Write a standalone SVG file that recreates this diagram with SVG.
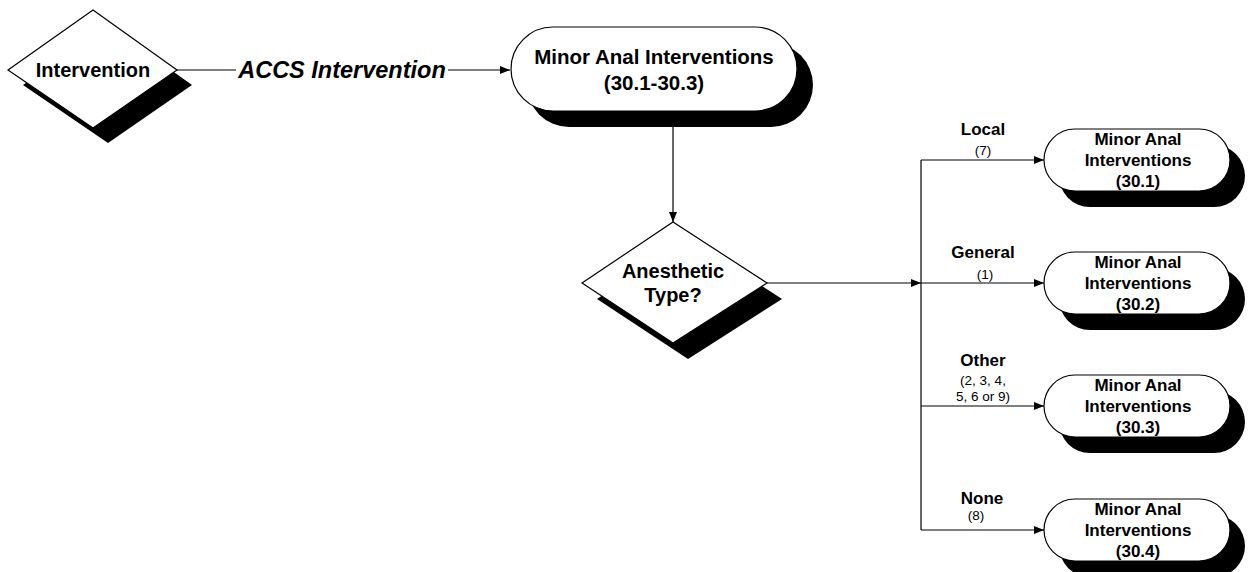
<svg xmlns="http://www.w3.org/2000/svg" width="1249" height="572" viewBox="0 0 1249 572">
<defs>
<style>
.bg{fill:#fff}
.shadow{fill:#000;stroke:none}
.shape{fill:#fff;stroke:#000;stroke-width:1.2}
.conn{fill:none;stroke:#000;stroke-width:1.2}
.t{font-family:"Liberation Sans",Arial,sans-serif;font-weight:bold;text-anchor:middle;fill:#000}
.big{font-size:20px}
.top{font-size:20.5px}
.mid{font-size:17px}
.small{font-family:"Liberation Sans",Arial,sans-serif;font-size:13.5px;text-anchor:middle;fill:#000}
.edge{font-family:"Liberation Sans",Arial,sans-serif;font-weight:bold;font-style:italic;font-size:23.5px;text-anchor:middle;fill:#000}
</style>
<marker id="arr" viewBox="0 0 10 8" refX="10" refY="4" markerWidth="10" markerHeight="8" markerUnits="userSpaceOnUse" orient="auto">
<path d="M0,0 L10,4 L0,8 Z" fill="#000"/>
</marker>
</defs>
<rect class="bg" x="0" y="0" width="1249" height="572"/>

<g id="connectors">
<line class="conn" x1="177" y1="70" x2="236" y2="70"/>
<line class="conn" x1="448" y1="70" x2="510" y2="70" marker-end="url(#arr)"/>
<text class="edge" x="342" y="78">ACCS Intervention</text>
<line class="conn" x1="673" y1="127" x2="673" y2="222" marker-end="url(#arr)"/>
<line class="conn" x1="767" y1="283" x2="921" y2="283" marker-end="url(#arr)"/>
<line class="conn" x1="921" y1="160" x2="921" y2="530"/>
<line class="conn" x1="921" y1="160" x2="1044" y2="160" marker-end="url(#arr)"/>
<line class="conn" x1="921" y1="283" x2="1044" y2="283" marker-end="url(#arr)"/>
<line class="conn" x1="921" y1="406" x2="1044" y2="406" marker-end="url(#arr)"/>
<line class="conn" x1="921" y1="530" x2="1044" y2="530" marker-end="url(#arr)"/>
<text class="t mid" x="983" y="135">Local</text>
<text class="small" x="983" y="155">(7)</text>
<text class="t mid" x="983" y="258">General</text>
<text class="small" x="985" y="279">(1)</text>
<text class="t mid" x="983" y="366">Other</text>
<text class="small" x="983" y="385">(2, 3, 4,</text>
<text class="small" x="983" y="401">5, 6 or 9)</text>
<text class="t mid" x="982" y="504">None</text>
<text class="small" x="976" y="520">(8)</text>
</g>

<g id="node-intervention">
<polygon class="shadow" points="23,85 108,25 192,85 108,143"/>
<polygon class="shape" points="8,70 93,10 177,70 93,128"/>
<text class="t big" x="93" y="77">Intervention</text>
</g>

<g id="node-minor-all">
<rect class="shadow" x="527" y="43" width="286" height="84" rx="42" ry="42"/>
<rect class="shape" x="511" y="27" width="286" height="84" rx="42" ry="42"/>
<text class="t top" x="654" y="64">Minor Anal Interventions</text>
<text class="t top" x="654" y="90">(30.1-30.3)</text>
</g>

<g id="node-anesthetic">
<polygon class="shadow" points="597,299 688,238 782,299 688,359"/>
<polygon class="shape" points="582,283 673,222 767,283 673,343"/>
<text class="t big" x="673" y="278">Anesthetic</text>
<text class="t big" x="673" y="302">Type?</text>
</g>

<g id="node-30-1">
<rect class="shadow" x="1059" y="145" width="186" height="62" rx="31" ry="31"/>
<rect class="shape" x="1044" y="129" width="186" height="62" rx="31" ry="31"/>
<text class="t mid" x="1138" y="145">Minor Anal</text>
<text class="t mid" x="1138" y="166">Interventions</text>
<text class="t mid" x="1138" y="187">(30.1)</text>
</g>

<g id="node-30-2">
<rect class="shadow" x="1059" y="268" width="186" height="62" rx="31" ry="31"/>
<rect class="shape" x="1044" y="252" width="186" height="62" rx="31" ry="31"/>
<text class="t mid" x="1138" y="268">Minor Anal</text>
<text class="t mid" x="1138" y="289">Interventions</text>
<text class="t mid" x="1138" y="310">(30.2)</text>
</g>

<g id="node-30-3">
<rect class="shadow" x="1059" y="391" width="186" height="62" rx="31" ry="31"/>
<rect class="shape" x="1044" y="375" width="186" height="62" rx="31" ry="31"/>
<text class="t mid" x="1138" y="391">Minor Anal</text>
<text class="t mid" x="1138" y="412">Interventions</text>
<text class="t mid" x="1138" y="433">(30.3)</text>
</g>

<g id="node-30-4">
<rect class="shadow" x="1059" y="515" width="186" height="62" rx="31" ry="31"/>
<rect class="shape" x="1044" y="499" width="186" height="62" rx="31" ry="31"/>
<text class="t mid" x="1138" y="515">Minor Anal</text>
<text class="t mid" x="1138" y="536">Interventions</text>
<text class="t mid" x="1138" y="557">(30.4)</text>
</g>
</svg>
